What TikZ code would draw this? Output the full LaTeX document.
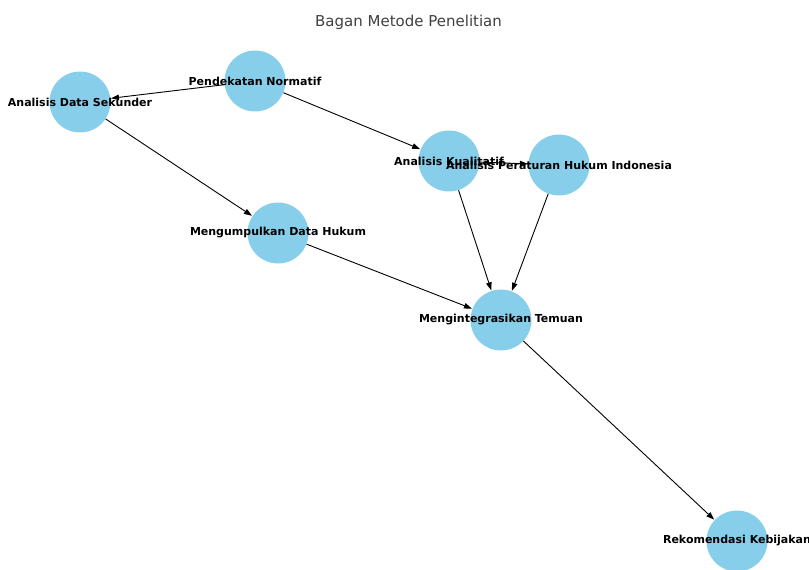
\documentclass[tikz,border=0pt]{standalone}
\usepackage{fontspec}
\setmainfont{DejaVu Sans}
\usetikzlibrary{arrows.meta}
\definecolor{skyblue}{HTML}{87CEEB}
\definecolor{titlegray}{HTML}{404040}
\tikzset{
  circ/.style={circle, fill=skyblue, draw=none, minimum size=61bp, inner sep=0pt},
  lbl/.style={font=\fontsize{11bp}{13bp}\selectfont\bfseries, text=black, inner sep=0pt},
  edge/.style={draw=black, line width=0.9bp, -{Triangle[length=8bp,width=5.5bp]}, shorten >=0.5bp}
}
\begin{document}
\begin{tikzpicture}[x=1bp, y=-1bp]
\useasboundingbox (0,0) rectangle (809,570);
\clip (0,0) rectangle (809,570);
\node[circ] (pn) at (255,81) {};
\node[circ] (ads) at (80,102) {};
\node[circ] (ak) at (449,161) {};
\node[circ] (aph) at (559,165) {};
\node[circ] (mdh) at (278,233) {};
\node[circ] (mt) at (501,320) {};
\node[circ] (rk) at (737,541) {};
\draw[edge] (pn) -- (ads);
\draw[edge] (pn) -- (ak);
\draw[edge] (ads) -- (mdh);
\draw[edge] (ak) -- (aph);
\draw[edge] (ak) -- (mt);
\draw[edge] (aph) -- (mt);
\draw[edge] (mdh) -- (mt);
\draw[edge] (mt) -- (rk);
\node[lbl] (tpn) at (pn) {Pendekatan Normatif};
\node[lbl] (tads) at (ads) {Analisis Data Sekunder};
\node[lbl] (tak) at (ak) {Analisis Kualitatif};
\node[lbl] (taph) at (aph) {Analisis Peraturan Hukum Indonesia};
\node[lbl] (tmdh) at (mdh) {Mengumpulkan Data Hukum};
\node[lbl] (tmt) at (mt) {Mengintegrasikan Temuan};
\node[lbl] (trk) at (rk) {Rekomendasi Kebijakan};
\node[font=\fontsize{15bp}{18bp}\selectfont, text=titlegray, inner sep=0pt] (title) at (408.5,22) {Bagan Metode Penelitian};
\end{tikzpicture}
\end{document}
